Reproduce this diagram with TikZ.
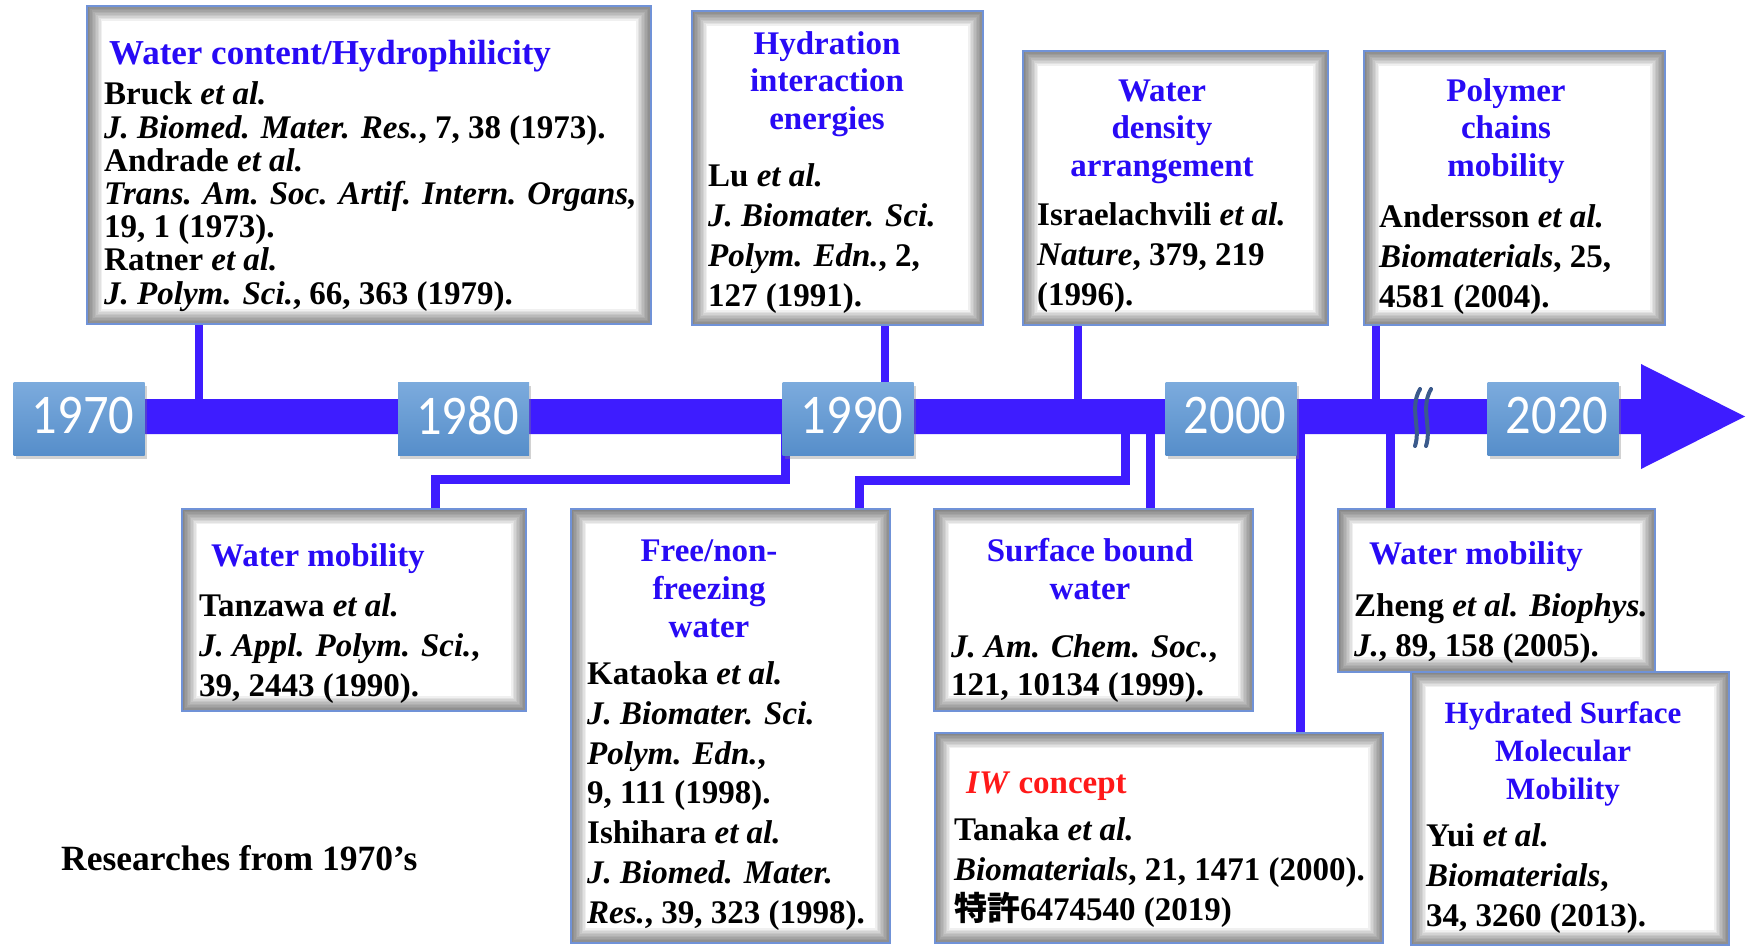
\documentclass[tikz,border=0pt]{standalone}
\usepackage{fontspec}
\setmainfont{Liberation Serif}
\newfontfamily\yearfont{Carlito}
\newfontfamily\jpfont{Noto Sans CJK JP}
\usetikzlibrary{shadows}
\definecolor{barblue}{RGB}{62,28,255}
\definecolor{titleblue}{RGB}{40,10,245}
\definecolor{boxborder}{RGB}{112,146,215}
\definecolor{ytop}{RGB}{124,171,221}
\definecolor{ybot}{RGB}{86,142,202}
\definecolor{breakc}{RGB}{59,90,140}
\definecolor{iwred}{RGB}{255,25,25}
\newcommand{\yeartext}[1]{\hspace*{8pt}\raisebox{6pt}{\scalebox{0.9}[1]{#1}}}
\begin{document}
\begin{tikzpicture}[x=1pt,y=-1pt,
  cbox/.style={draw=boxborder, line width=2pt, fill=white, inner sep=0pt,
    path picture={\foreach \k [evaluate=\k as \w using 3*\k] in {1,...,10}
      {\draw[black, opacity=0.06, line width=\w pt] (path picture bounding box.south west) rectangle (path picture bounding box.north east);}}},
  ybox/.style={top color=ytop, bottom color=ybot, draw=none, inner sep=0pt,
    minimum width=131pt, minimum height=73pt, text=white,
    font=\yearfont\fontsize{56}{56}\selectfont,
    drop shadow={shadow xshift=2pt, shadow yshift=-4pt, opacity=0.35}},
  ttl/.style={text=titleblue, font=\bfseries\fontsize{33}{37.5}\selectfont, align=center, inner sep=0pt, anchor=base},
  ttll/.style={text=titleblue, font=\bfseries\fontsize{33}{37.5}\selectfont, inner sep=0pt, anchor=base west},
  body/.style={font=\bfseries\fontsize{33}{40}\selectfont, align=left, inner sep=0pt, anchor=base west},
  stem/.style={draw=barblue, line width=8pt},
  link/.style={draw=barblue, line width=9pt},
]
\useasboundingbox (0,0) rectangle (1750,950);
\fill[white] (0,0) rectangle (1750,950);

% content boxes
\node[cbox, minimum width=564pt, minimum height=318pt] (b1) at (369,165) {};
\node[cbox, minimum width=291pt, minimum height=314pt] (b2) at (837.5,168) {};
\node[cbox, minimum width=305pt, minimum height=274pt] (b3) at (1175.5,188) {};
\node[cbox, minimum width=301pt, minimum height=274pt] (b4) at (1514.5,188) {};
\node[cbox, minimum width=344pt, minimum height=202pt] (b5) at (354,610) {};
\node[cbox, minimum width=319pt, minimum height=434pt] (b6) at (730.5,726) {};
\node[cbox, minimum width=319pt, minimum height=202pt] (b7) at (1093.5,610) {};
\node[cbox, minimum width=448pt, minimum height=210pt] (b8) at (1159,838) {};
\node[cbox, minimum width=317pt, minimum height=163pt] (b9) at (1496.5,590.5) {};
\node[cbox, minimum width=318pt, minimum height=273pt] (b10) at (1570,808.5) {};

% bar coordinates
\coordinate (s1) at (199,416.5);
\coordinate (s2) at (885,416.5);
\coordinate (s3) at (1078,416.5);
\coordinate (s4) at (1376,416.5);
\coordinate (p1) at (785,416.5);
\coordinate (q1) at (435,479);
\coordinate (p2) at (1125,416.5);
\coordinate (q2) at (859,480);
\coordinate (p3) at (1150,416.5);
\coordinate (p4) at (1300,416.5);
\coordinate (p5) at (1390,416.5);

% connectors
\draw[stem] (b1.south -| s1) -- (s1);
\draw[stem] (b2.south -| s2) -- (s2);
\draw[stem] (b3.south -| s3) -- (s3);
\draw[stem] (b4.south -| s4) -- (s4);
\draw[link] (p1) |- (q1) -- (q1 |- b5.north);
\draw[link] (p2) |- (q2) -- (q2 |- b6.north);
\draw[link] (p3) -- (p3 |- b7.north);
\draw[link] (p4) -- (p4 |- b8.north);
\draw[link] (p5) -- (p5 |- b9.north);

% bar with arrow head
\fill[barblue] (100,399) -- (1641,399) -- (1641,364) -- (1745,416.5) -- (1641,469) -- (1641,434) -- (100,434) -- cycle;

% break mark
\draw[breakc, line width=4pt, line cap=round] (1420,389) .. controls (1409,408) and (1421,428) .. (1415,446);
\draw[breakc, line width=4pt, line cap=round] (1431,389) .. controls (1420,408) and (1432,428) .. (1426,446);

% year boxes
\node[ybox] (y1970) at (79,418.5) {\yeartext{1970}};
\node[ybox] (y1980) at (463.5,418.5) {\yeartext{1980}};
\node[ybox] (y1990) at (848,418.5) {\yeartext{1990}};
\node[ybox] (y2000) at (1231,418.5) {\yeartext{2000}};
\node[ybox] (y2020) at (1553,418.5) {\yeartext{2020}};

% texts box 1 (multi-line nodes anchored at the baseline of their last line)
\node[ttll, font=\bfseries\fontsize{35}{37.5}\selectfont] (t1) at (109,64) {Water content/Hydrophilicity};
\node[body, font=\bfseries\fontsize{33}{33.2}\selectfont] (r1) at (104,304) {Bruck \textit{et al.}\\
\textit{J. Biomed. Mater. Res.}, 7, 38 (1973).\\
Andrade \textit{et al.}\\
\textit{Trans. Am. Soc. Artif. Intern. Organs,}\\
19, 1 (1973).\\
Ratner \textit{et al.}\\
\textit{J. Polym. Sci.}, 66, 363 (1979).};

% box 2
\node[ttl] (t2) at (827,129) {Hydration\\interaction\\energies};
\node[body] (r2) at (708,306) {Lu \textit{et al.}\\
\textit{J. Biomater. Sci.}\\
\textit{Polym. Edn.}, 2,\\
127 (1991).};

% box 3
\node[ttl] (t3) at (1162,176) {Water\\density\\arrangement};
\node[body] (r3) at (1037,305) {Israelachvili \textit{et al.}\\
\textit{Nature}, 379, 219\\
(1996).};

% box 4
\node[ttl] (t4) at (1506,176) {Polymer\\chains\\mobility};
\node[body] (r4) at (1379,307) {Andersson \textit{et al.}\\
\textit{Biomaterials}, 25,\\
4581 (2004).};

% box 5
\node[ttll] (t5) at (211,566) {Water mobility};
\node[body] (r5) at (199,696) {Tanzawa \textit{et al.}\\
\textit{J. Appl. Polym. Sci.},\\
39, 2443 (1990).};

% box 6
\node[ttl, font=\bfseries\fontsize{33}{38}\selectfont] (t6) at (709,637) {Free/non-\\freezing\\water};
\node[body, font=\bfseries\fontsize{33}{39.7}\selectfont] (r6) at (587,923) {Kataoka \textit{et al.}\\
\textit{J. Biomater. Sci.}\\
\textit{Polym. Edn.},\\
9, 111 (1998).\\
Ishihara \textit{et al.}\\
\textit{J. Biomed. Mater.}\\
\textit{Res.}, 39, 323 (1998).};

% box 7
\node[ttl, font=\bfseries\fontsize{33}{38}\selectfont] (t7) at (1090,599) {Surface bound\\water};
\node[body, font=\bfseries\fontsize{33}{38}\selectfont] (r7) at (951,695) {\textit{J. Am. Chem. Soc.},\\
121, 10134 (1999).};

% box 8
\node[ttll, text=iwred] (t8) at (966,793) {\textit{IW} concept};
\node[body] (r8) at (954,920) {Tanaka \textit{et al.}\\
\textit{Biomaterials}, 21, 1471 (2000).\\
{\jpfont\bfseries 特許}6474540 (2019)};

% box 9
\node[ttll] (t9) at (1369,564) {Water mobility};
\node[body] (r9) at (1354,656) {Zheng \textit{et al. Biophys.}\\
\textit{J.}, 89, 158 (2005).};

% box 10
\node[ttl, font=\bfseries\fontsize{31}{38}\selectfont] (t10) at (1563,799) {Hydrated Surface\\Molecular\\Mobility};
\node[body] (r10) at (1426,926) {Yui \textit{et al.}\\
\textit{Biomaterials},\\
34, 3260 (2013).};

% caption
\node[font=\bfseries\fontsize{35.5}{40}\selectfont, inner sep=0pt, anchor=base west] (cap) at (61,870) {Researches from 1970’s};
\end{tikzpicture}
\end{document}
